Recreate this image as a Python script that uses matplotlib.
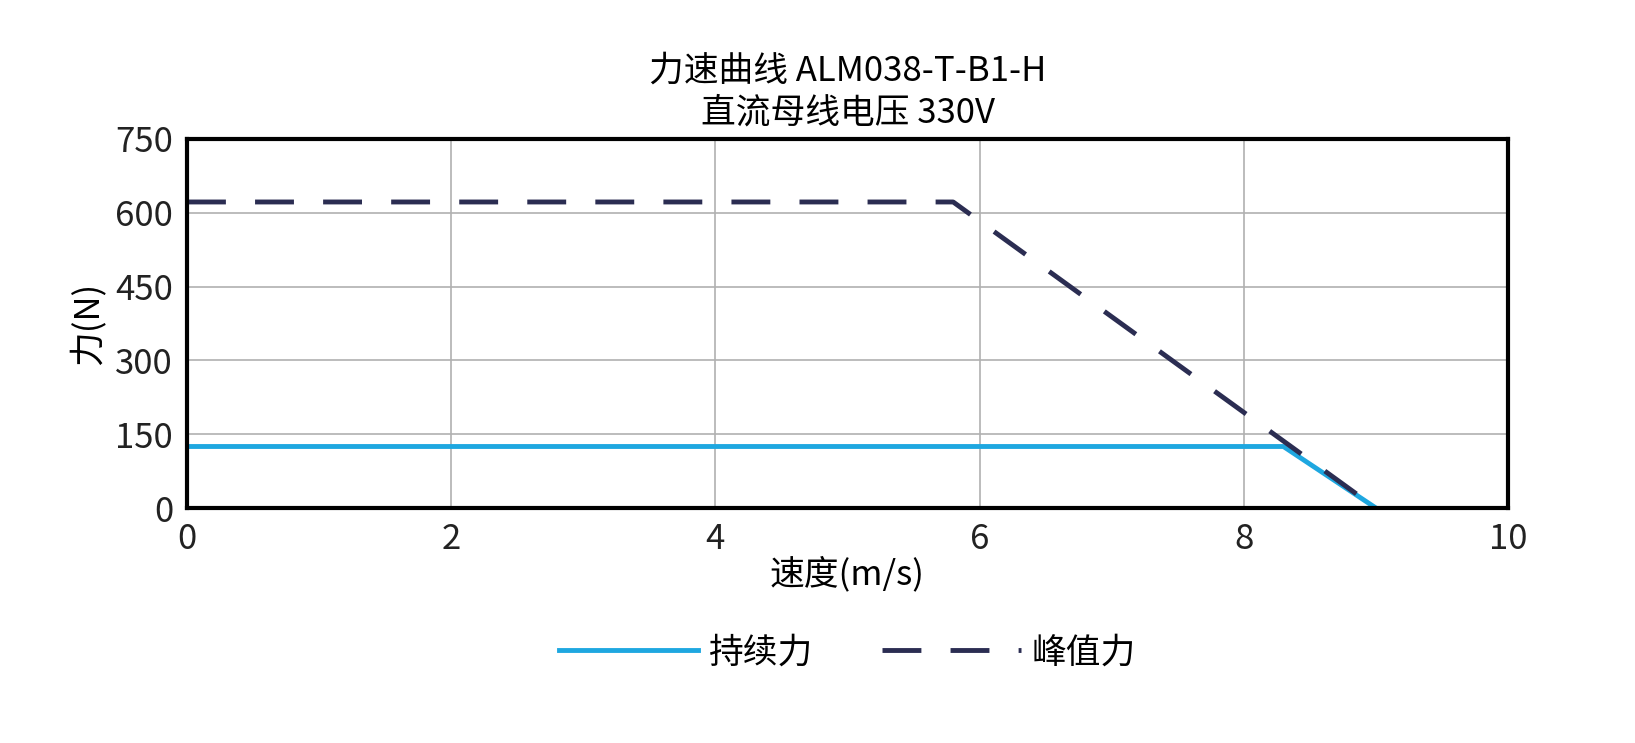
import matplotlib
matplotlib.use("Agg")
import matplotlib.pyplot as plt

plt.rcParams['font.family'] = ['Noto Sans CJK SC', 'DejaVu Sans']

cont_speed = [0, 8.3, 9.0]
cont_force = [125, 125, 0]
peak_speed = [0, 5.8, 9.0]
peak_force = [622, 622, 0]

fig = plt.figure(figsize=(16.35, 7.43), dpi=100)
ax = fig.add_axes([187/1635, 1-508/743, (1508-187)/1635, (508-139)/743])

ax.plot(cont_speed, cont_force, color='#1ea7e0', lw=3.5, label='持续力')
ax.plot(peak_speed, peak_force, color='#2b2d52', lw=3.5, ls=(0, (8, 6)), label='峰值力')

ax.set_xlim(0, 10)
ax.set_ylim(0, 750)
ax.set_xticks(range(0, 11, 2))
ax.set_yticks(range(0, 751, 150))
ax.grid(True, color='#b0b0b0', lw=1.2)
for s in ax.spines.values():
    s.set_linewidth(3)
    s.set_color('black')
ax.tick_params(length=0, labelsize=25, pad=10, colors='#222222')
ax.set_xlabel('速度(m/s)', fontsize=25, labelpad=0)
ax.set_ylabel('力(N)', fontsize=25, labelpad=6)
ax.set_title('力速曲线 ALM038-T-B1-H\n直流母线电压 330V', fontsize=25, pad=12, linespacing=1.25)
ax.legend(loc='upper center', bbox_to_anchor=(0.5, -0.26), ncol=2, frameon=False,
          fontsize=25, handlelength=4.0, columnspacing=2.0, handletextpad=0.3)

fig.savefig('out.png', dpi=100)
